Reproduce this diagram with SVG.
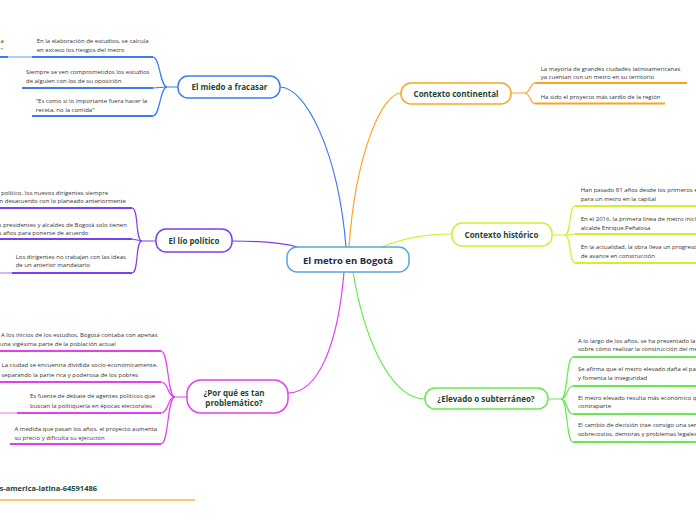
<svg xmlns="http://www.w3.org/2000/svg" width="696" height="520" viewBox="0 0 696 520">
<style>
.t{font-family:"Open Sans","Noto Sans","Liberation Sans",sans-serif;font-size:6px;fill:#333}
.n{font-family:"Open Sans","Noto Sans","Liberation Sans",sans-serif;font-size:8px;font-weight:bold;fill:#1e4535;text-anchor:middle}
.c{fill:none;stroke-width:1.2}
.u{fill:none;stroke-width:2;stroke-linecap:butt}
.box{fill:#fff;stroke-width:1.5}
.blue{stroke:#3b7cf6}.lblue{stroke:#b3cbfb}
.purple{stroke:#7b3ff2}.lpurple{stroke:#cdb8fa}
.mag{stroke:#e23ff0}.lmag{stroke:#f4b8f8}
.orange{stroke:#ffa21f}
.yellow{stroke:#d3ee2f}
.green{stroke:#66ea4c}
</style>
<g id="connectors">
<path class="c blue" d="M280,87 C305,87 338,150 346,247"/>
<path class="c orange" d="M401,93 C383,93 356,150 349,247"/>
<path class="c yellow" d="M381,247 C405,238 425,234 452,234"/>
<path class="c purple" d="M232,241 C262,241 282,243 298,247"/>
<path class="c mag" d="M344,272 C338,345 318,393 288,393"/>
<path class="c green" d="M353,272 C366,350 395,399 425,399"/>
<path class="c blue" d="M178,87 L167,87 C160,87 160,57 153,57"/>
<path class="c blue" d="M167,87 L153,88"/>
<path class="c blue" d="M167,87 C160,87 160,116 153,116"/>
<path class="c purple" d="M156,241 L142,241 C135,241 139,208 132,208"/>
<path class="c purple" d="M142,241 L132,239"/>
<path class="c purple" d="M142,241 C135,241 139,273 132,273"/>
<path class="c mag" d="M187,397 L175,397 C167,397 169,351 161,351"/>
<path class="c mag" d="M175,397 C167,397 169,382 161,382"/>
<path class="c mag" d="M175,397 C167,397 169,413 161,413"/>
<path class="c mag" d="M175,397 C167,397 169,444 161,444"/>
<path class="c orange" d="M511,93 L525,93 C530,93 530,83 535,83"/>
<path class="c orange" d="M525,93 C530,93 530,103.5 535,103.5"/>
<path class="c yellow" d="M552,235 L565,235 C571,235 569,206 575,206"/>
<path class="c yellow" d="M565,235 L575,234"/>
<path class="c yellow" d="M565,235 C571,235 569,263 575,263"/>
<path class="c green" d="M548,399 L561,399 C568,399 566,357 573,357"/>
<path class="c green" d="M561,399 C568,399 566,386 573,386"/>
<path class="c green" d="M561,399 C568,399 566,414 573,414"/>
<path class="c green" d="M561,399 C568,399 566,442 573,442"/>
</g>
<g id="center">
<rect class="box" x="287" y="247" width="122" height="25" rx="10" style="stroke:#5aa5df"/>
<text x="348" y="263.5" class="n" style="font-size:9.5px;fill:#1c2b4a">El metro en Bogotá</text>
</g>
<g id="miedo">
<rect class="box blue" x="178" y="76" width="102" height="22" rx="10"/>
<text x="229.5" y="90" class="n">El miedo a fracasar</text>
</g>
<g id="miedo-1">
<path class="u blue" d="M32,57 H153"/>
<text class="t" x="36.7" y="43">En la elaboración de estudios, se calcula</text>
<text class="t" x="36.7" y="51.5">en exceso los riesgos del metro</text>
</g>
<g id="miedo-1-1">
<path class="u lblue" d="M8,57 H32"/>
<path class="u blue" d="M-1,57 H8"/>
<text class="t" x="0.5" y="43">a</text>
<text class="t" x="0.5" y="51.5">"</text>
</g>
<g id="miedo-2">
<path class="u blue" d="M22,88 H153"/>
<text class="t" x="26" y="74">Siempre se ven comprometidos los estudios</text>
<text class="t" x="26" y="83">de alguien con los de su oposición</text>
</g>
<g id="miedo-3">
<path class="u blue" d="M32,116 H153"/>
<text class="t" x="35.7" y="103.3">"Es como si lo importante fuera hacer la</text>
<text class="t" x="35.7" y="111.6">receta, no la comida"</text>
</g>
<g id="lio">
<rect class="box purple" x="156" y="229" width="76" height="23" rx="10"/>
<text x="194" y="244" class="n">El lío político</text>
</g>
<g id="lio-1">
<path class="u purple" d="M-1,208 H132"/>
<text class="t" x="1" y="194.5">político, los nuevos dirigentes siempre</text>
<text class="t" x="-0.5" y="203">n desacuerdo con lo planeado anteriormente</text>
</g>
<g id="lio-2">
<path class="u purple" d="M-1,239 H132"/>
<text class="t" x="-1.5" y="226.5">s presidentes y alcaldes de Bogotá solo tienen</text>
<text class="t" x="-1.5" y="234.5">s años para ponerse de acuerdo</text>
</g>
<g id="lio-3">
<path class="u lpurple" d="M-1,273 H12"/>
<path class="u purple" d="M12,273 H132"/>
<text class="t" x="15.7" y="259">Los dirigentes no trabajan con las ideas</text>
<text class="t" x="15.7" y="267.2">de un anterior mandatario</text>
</g>
<g id="porque">
<rect class="box mag" x="187" y="380" width="101" height="33" rx="14"/>
<text x="234" y="396.3" class="n">¿Por qué es tan</text>
<text x="234" y="406.3" class="n">problemático?</text>
</g>
<g id="porque-1">
<path class="u mag" d="M-1,351 H161"/>
<text class="t" x="1" y="337.2">A los inicios de los estudios, Bogotá contaba con apenas</text>
<text class="t" x="0" y="346.2">una vigésima parte de la población actual</text>
</g>
<g id="porque-2">
<path class="u mag" d="M-1,382 H161"/>
<text class="t" x="1.5" y="367.2">La ciudad se encuentra dividida socio-económicamente,</text>
<text class="t" x="1.5" y="377.2">separando la parte rica y poderosa de los pobres</text>
</g>
<g id="porque-3">
<path class="u lmag" d="M-1,413 H17"/>
<path class="u mag" d="M17,413 H161"/>
<text class="t" x="30" y="398.2">Es fuente de debate de agentes políticos que</text>
<text class="t" x="30" y="408.2">buscan la politiquería en épocas electorales</text>
</g>
<g id="porque-4">
<path class="u mag" d="M10,444 H161"/>
<text class="t" x="14.5" y="430.5">A medida que pasan los años, el proyecto aumenta</text>
<text class="t" x="14.5" y="439.5">su precio y dificulta su ejecución</text>
</g>
<g id="continental">
<rect class="box orange" x="401" y="83" width="110" height="21" rx="10"/>
<text x="456" y="96.5" class="n">Contexto continental</text>
</g>
<g id="continental-1">
<path class="u orange" d="M535,83 H687"/>
<text class="t" x="540.7" y="70.5">La mayoría de grandes ciudades latinoamericanas</text>
<text class="t" x="540.7" y="79">ya cuentan con un metro en su territorio</text>
</g>
<g id="continental-2">
<path class="u orange" d="M535,103.5 H665"/>
<text class="t" x="540.7" y="99">Ha sido el proyecto más tardío de la región</text>
</g>
<g id="historico">
<rect class="box yellow" x="452" y="223" width="100" height="23" rx="10"/>
<text x="501.5" y="237.5" class="n">Contexto histórico</text>
</g>
<g id="historico-1">
<path class="u yellow" d="M575,206 H697"/>
<text class="t" x="580.7" y="192.2">Han pasado 81 años desde los primeros estudios</text>
<text class="t" x="580.7" y="201.2">para un metro en la capital</text>
</g>
<g id="historico-2">
<path class="u yellow" d="M575,234 H697"/>
<text class="t" x="580.7" y="220.5">En el 2016, la primera línea de metro inició</text>
<text class="t" x="580.7" y="229.5">alcalde Enrique Peñalosa</text>
</g>
<g id="historico-3">
<path class="u yellow" d="M575,263 H697"/>
<text class="t" x="580.7" y="249">En la actualidad, la obra lleva un progreso</text>
<text class="t" x="580.7" y="258.2">de avance en construcción</text>
</g>
<g id="elevado">
<rect class="box green" x="425" y="388" width="123" height="21" rx="10"/>
<text x="486" y="402" class="n">¿Elevado o subterráneo?</text>
</g>
<g id="elevado-1">
<path class="u green" d="M573,357 H697"/>
<text class="t" x="578" y="343">A lo largo de los años, se ha presentado la</text>
<text class="t" x="578" y="351.2">sobre cómo realizar la construcción del metro</text>
</g>
<g id="elevado-2">
<path class="u green" d="M573,386 H697"/>
<text class="t" x="578" y="370.5">Se afirma que el metro elevado daña el paisaje</text>
<text class="t" x="578" y="379.5">y fomenta la inseguridad</text>
</g>
<g id="elevado-3">
<path class="u green" d="M573,414 H697"/>
<text class="t" x="578" y="400">El metro elevado resulta más económico que</text>
<text class="t" x="578" y="408.2">contraparte</text>
</g>
<g id="elevado-4">
<path class="u green" d="M573,442 H697"/>
<text class="t" x="578" y="427.2">El cambio de decisión trae consigo una serie</text>
<text class="t" x="578" y="436.2">sobrecostos, demoras y problemas legales</text>
</g>
<g id="link">
<path class="u" d="M-1,500 H195" style="stroke:#ffc870"/>
<text x="-0.5" y="491" class="n" style="text-anchor:start;font-size:7.5px;fill:#1e4535">s-america-latina-64591486</text>
</g>
</svg>
